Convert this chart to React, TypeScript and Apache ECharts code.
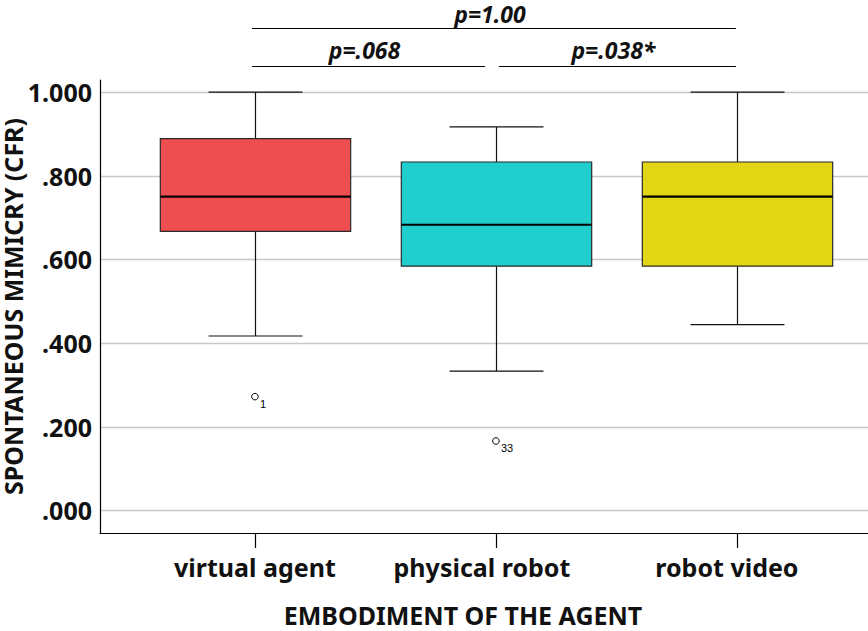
import React, { useEffect, useRef } from "react";
import * as echarts from "echarts";

// ---- data ----
const categories = ["virtual agent", "physical robot", "robot video"];
const whiskerLow = [0.417, 0.333, 0.444];
const quartile1 = [0.667, 0.584, 0.584];
const medians = [0.75, 0.683, 0.75];
const quartile3 = [0.889, 0.833, 0.833];
const whiskerHigh = [1.0, 0.917, 1.0];
const outlierGroup = [0, 1];
const outlierValues = [0.272, 0.166];
const outlierCases = ["1", "33"];
const boxColors = ["#EE4E50", "#20CECE", "#E1D514"];
const yTickLabels: Record<string, string> = {
  "0": ".000",
  "0.2": ".200",
  "0.4": ".400",
  "0.6": ".600",
  "0.8": ".800",
  "1": "1.000",
};
const compFrom = [0, 0, 1];
const compTo = [2, 1, 2];
const compLevel = [2, 1, 1];
const compLabels = ["p=1.00", "p=.068", "p=.038*"];

// ---- layout constants ----
const FONT = "'Noto Sans', 'DejaVu Sans', sans-serif";
const BOX_WIDTH = 0.79;
const CAP_WIDTH = 0.39;
const LEVEL_Y: Record<number, number> = { 1: 66.5, 2: 28.5 };
const LEVEL_TEXT_GAP: Record<number, number> = { 1: 6, 2: 4 };
const LABEL_SHIFT = [0, 28, 20];

export default function App() {
  const ref = useRef<HTMLDivElement>(null);

  useEffect(() => {
    if (!ref.current) return;
    const chart = echarts.init(ref.current, null, { renderer: "svg" });

    const boxData = categories.map((_, i) => [
      i + 1,
      whiskerLow[i],
      quartile1[i],
      medians[i],
      quartile3[i],
      whiskerHigh[i],
    ]);
    const outlierData = outlierValues.map((v, i) => [outlierGroup[i] + 1, v, i]);
    const compData = compFrom.map((f, i) => [f + 1, compTo[i] + 1, compLevel[i], i]);

    const labelStyle = { fontFamily: FONT, fontWeight: "bold", fontSize: 25, color: "#111" };
    const rich: any = {};
    LABEL_SHIFT.forEach((s, i) => {
      rich["c" + i] = { ...labelStyle, padding: [0, s, 0, 0] };
    });

    const option: any = {
      animation: false,
      backgroundColor: "#fff",
      grid: {
        left: 100,
        right: 0,
        top: 80,
        bottom: 98,
        containLabel: false,
        outerBoundsMode: "none",
      },
      xAxis: {
        type: "value",
        min: 0.357,
        max: 3.544,
        name: "EMBODIMENT OF THE AGENT",
        nameLocation: "middle",
        nameGap: 69,
        nameTextStyle: { ...labelStyle, fontSize: 25, padding: [0, 42, 0, 0] },
        axisLine: { show: true, onZero: false, lineStyle: { color: "#000", width: 1.2 } },
        axisTick: { show: true, customValues: [1, 2, 3], length: 15, lineStyle: { color: "#000", width: 1.2 } },
        axisLabel: {
          customValues: [1, 2, 3],
          margin: 21,
          formatter: (v: number) => {
            const i = Math.round(v) - 1;
            return categories[i] ? `{c${i}|${categories[i]}}` : "";
          },
          rich,
          ...labelStyle,
        },
        splitLine: { show: false },
      },
      yAxis: {
        type: "value",
        min: -0.054,
        max: 1.029,
        name: "SPONTANEOUS MIMICRY (CFR)",
        nameLocation: "middle",
        nameGap: 75,
        nameMoveOverlap: false,
        nameTextStyle: { ...labelStyle, fontSize: 25 },
        axisLine: { show: true, onZero: false, lineStyle: { color: "#000", width: 1.2 } },
        axisTick: { show: false },
        axisLabel: {
          showMinLabel: false,
          showMaxLabel: false,
          margin: 8,
          formatter: (v: number) => yTickLabels[String(Math.round(v * 10) / 10)] ?? "",
          ...labelStyle,
        },
        splitLine: {
          show: true,
          showMinLine: false,
          showMaxLine: false,
          lineStyle: { color: "#c8c8c8", width: 1.3 },
        },
      },
      series: [
        {
          type: "custom",
          data: boxData,
          z: 3,
          renderItem: (params: any, api: any) => {
            const x = api.value(0);
            const lo = api.coord([x, api.value(1)]);
            const a = api.coord([x, api.value(2)]);
            const m = api.coord([x, api.value(3)]);
            const b = api.coord([x, api.value(4)]);
            const hi = api.coord([x, api.value(5)]);
            const half = api.size([BOX_WIDTH, 0])[0] / 2;
            const cap = api.size([CAP_WIDTH, 0])[0] / 2;
            const cx = Math.round(lo[0]) + 0.5;
            const stroke = { stroke: "#111", lineWidth: 1.2 };
            return {
              type: "group",
              children: [
                { type: "line", shape: { x1: cx, y1: lo[1], x2: cx, y2: a[1] }, style: stroke },
                { type: "line", shape: { x1: cx, y1: b[1], x2: cx, y2: hi[1] }, style: stroke },
                { type: "line", shape: { x1: cx - cap, y1: lo[1], x2: cx + cap, y2: lo[1] }, style: stroke },
                { type: "line", shape: { x1: cx - cap, y1: hi[1], x2: cx + cap, y2: hi[1] }, style: stroke },
                {
                  type: "rect",
                  shape: { x: cx - half, y: b[1], width: half * 2, height: a[1] - b[1] },
                  style: { fill: boxColors[params.dataIndex], stroke: "#2a2a2a", lineWidth: 1.2 },
                },
                {
                  type: "line",
                  shape: { x1: cx - half, y1: m[1], x2: cx + half, y2: m[1] },
                  style: { stroke: "#000", lineWidth: 2.2 },
                },
              ],
            };
          },
        },
        {
          type: "custom",
          data: outlierData,
          z: 4,
          renderItem: (params: any, api: any) => {
            const p = api.coord([api.value(0), api.value(1)]);
            const idx = api.value(2);
            return {
              type: "group",
              children: [
                {
                  type: "circle",
                  shape: { cx: p[0], cy: p[1], r: 3.3 },
                  style: { fill: "#fff", stroke: "#000", lineWidth: 1 },
                },
                {
                  type: "text",
                  x: p[0] + 5,
                  y: p[1] + 2,
                  style: {
                    text: outlierCases[idx],
                    fill: "#000",
                    fontFamily: "'Liberation Sans', Arial, sans-serif",
                    fontSize: 11,
                    align: "left",
                    verticalAlign: "top",
                  },
                },
              ],
            };
          },
        },
        {
          type: "custom",
          data: compData,
          clip: false,
          z: 5,
          renderItem: (params: any, api: any) => {
            const from = api.value(0);
            const to = api.value(1);
            const level = api.value(2);
            const idx = api.value(3);
            let x1 = api.coord([from, 0])[0] - 3;
            let x2 = api.coord([to, 0])[0] - 1;
            if (to < categories.length) x2 -= 10;
            if (from > 1) x1 += 6;
            const y = LEVEL_Y[level];
            return {
              type: "group",
              children: [
                { type: "line", shape: { x1, y1: y, x2, y2: y }, style: { stroke: "#000", lineWidth: 1.2 } },
                {
                  type: "text",
                  x: (x1 + x2) / 2 - 4,
                  y: y - LEVEL_TEXT_GAP[level],
                  style: {
                    text: compLabels[idx],
                    fill: "#111",
                    fontFamily: FONT,
                    fontWeight: "bold",
                    fontStyle: "italic",
                    fontSize: 23,
                    lineHeight: 22,
                    align: "center",
                    verticalAlign: "bottom",
                  },
                },
              ],
            };
          },
        },
      ],
    };

    chart.setOption(option);
    return () => chart.dispose();
  }, []);

  return (
    <div
      ref={ref}
      style={{ position: "absolute", left: 0, top: 0, width: 868, height: 631 }}
    />
  );
}
